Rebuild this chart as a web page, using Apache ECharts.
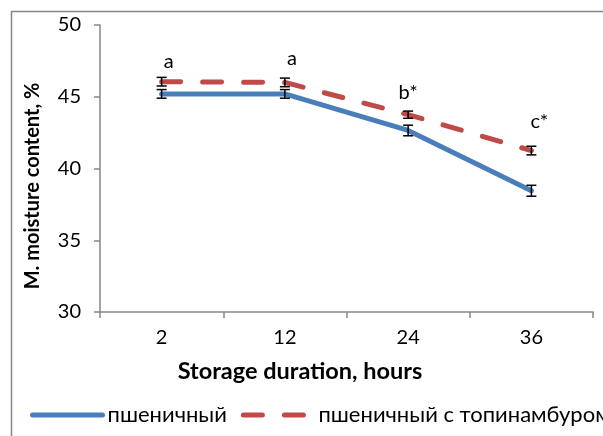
<!DOCTYPE html>
<html>
<head>
<meta charset="utf-8">
<script src="https://cdn.jsdelivr.net/npm/echarts@6/dist/echarts.min.js"></script>
<style>html,body{margin:0;padding:0;background:#fff}#c{width:603px;height:436px}</style>
</head>
<body>
<div id="c"></div>
<script>
// ---- data ----
var categories = ['2', '12', '24', '36'];
var wheatName = 'пшеничный';
var wheatJerusalemName = 'пшеничный с топинамбуром';
var wheat = [45.2, 45.2, 42.65, 38.45];
var wheatErr = [0.3, 0.3, 0.37, 0.38];
var wheatJerusalem = [46.05, 46.0, 43.75, 41.25];
var wheatJerusalemErr = [0.3, 0.3, 0.25, 0.3];
var annotations = ['a', 'a', 'b*', 'c*'];
var yTicks = {min: 30, max: 50, interval: 5};
var xTitle = 'Storage duration, hours';
var yTitle = 'M. moisture content, %';

// ---- styling ----
var FONT = 'Lato';
var annotOffsetX = [7, 7, 0, 8];
var annotOffsetY = [-16, -20, -19, -25];
var gray = '#868686';

function errSeries(vals, errs, z) {
  return {
    type: 'custom',
    z: z,
    silent: true,
    data: vals.map(function (v, i) { return [i, v, errs[i]]; }),
    renderItem: function (params, api) {
      var i = api.value(0), v = api.value(1), e = api.value(2);
      var top = api.coord([i, v + e]);
      var bot = api.coord([i, v - e]);
      var hw = 5;
      var st = {stroke: '#000', lineWidth: 1.5};
      return {type: 'group', children: [
        {type: 'line', shape: {x1: top[0], y1: top[1], x2: bot[0], y2: bot[1]}, style: st},
        {type: 'line', shape: {x1: top[0] - hw, y1: top[1], x2: top[0] + hw, y2: top[1]}, style: st},
        {type: 'line', shape: {x1: bot[0] - hw, y1: bot[1], x2: bot[0] + hw, y2: bot[1]}, style: st}
      ]};
    }
  };
}

var chart = echarts.init(document.getElementById('c'), null, {renderer: 'canvas'});
chart.setOption({
  animation: false,
  backgroundColor: '#fff',
  textStyle: {fontFamily: FONT},
  grid: {left: 100, right: 10, top: 25, bottom: 124, containLabel: false},
  xAxis: {
    type: 'category',
    data: categories,
    boundaryGap: true,
    axisLine: {lineStyle: {color: gray, width: 1.5}},
    axisTick: {show: true, length: 6, inside: false, lineStyle: {color: gray, width: 1.5}},
    axisLabel: {color: '#000', fontSize: 20, margin: 16, fontFamily: FONT},
    splitLine: {show: false}
  },
  yAxis: {
    type: 'value',
    min: yTicks.min, max: yTicks.max, interval: yTicks.interval,
    axisLine: {show: true, lineStyle: {color: gray, width: 1.5}},
    axisTick: {show: true, length: 6, lineStyle: {color: gray, width: 1.5}},
    axisLabel: {color: '#000', fontSize: 20, margin: 19, fontFamily: FONT},
    splitLine: {show: false}
  },
  legend: {
    left: 25, top: 399, width: 1200, orient: 'horizontal',
    itemWidth: 70, itemHeight: 12, itemGap: 14, itemTextGap: 6,
    itemStyle: {opacity: 0, borderWidth: 0},
    lineStyle: {width: 5, cap: 'round'},
    textStyle: {fontSize: 22, color: '#000', fontFamily: FONT},
    data: [wheatName, wheatJerusalemName]
  },
  graphic: [
    {type: 'rect', shape: {x: 11.5, y: 11.5, width: 800, height: 600}, style: {fill: null, stroke: gray, lineWidth: 1.5}, z: -10, silent: true},
    {type: 'text', x: 300, y: 371, style: {text: xTitle, font: 'bold 23.5px ' + FONT, fill: '#000', align: 'center', verticalAlign: 'middle'}},
    {type: 'text', x: 33, y: 186, rotation: Math.PI / 2, style: {text: yTitle, font: 'bold 20px ' + FONT, fill: '#000', align: 'center', verticalAlign: 'middle'}}
  ],
  series: [
    {
      name: wheatName, type: 'line', data: wheat, symbol: 'none', z: 3,
      lineStyle: {color: '#4a7ebb', width: 5, cap: 'round', join: 'round'},
      itemStyle: {color: '#4a7ebb'}
    },
    {
      name: wheatJerusalemName, type: 'line', data: wheatJerusalem, symbol: 'none', z: 3,
      lineStyle: {color: '#be4b48', width: 5, type: [19, 22], cap: 'round', join: 'round'},
      itemStyle: {color: '#be4b48'}
    },
    errSeries(wheat, wheatErr, 5),
    errSeries(wheatJerusalem, wheatJerusalemErr, 5),
    {
      type: 'custom', z: 6, silent: true,
      data: wheatJerusalem.map(function (v, i) { return [i, v + wheatJerusalemErr[i]]; }),
      renderItem: function (params, api) {
        var idx = params.dataIndex;
        var p = api.coord([api.value(0), api.value(1)]);
        return {type: 'text', x: p[0] + annotOffsetX[idx], y: p[1] + annotOffsetY[idx],
          style: {text: annotations[idx], font: '20px ' + FONT, fill: '#000', align: 'center', verticalAlign: 'middle'}};
      }
    }
  ]
});
</script>
</body>
</html>
